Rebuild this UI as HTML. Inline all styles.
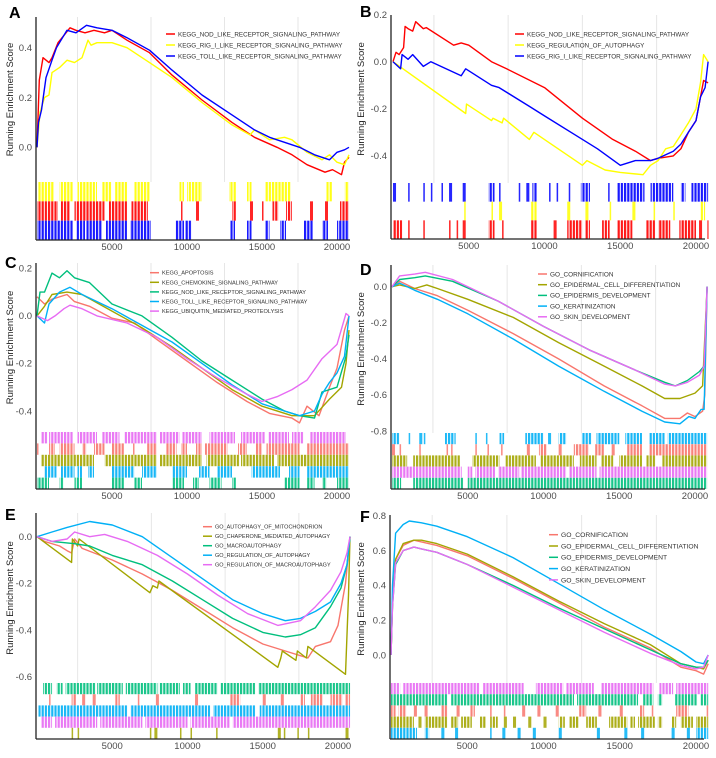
<!DOCTYPE html>
<html><head><meta charset="utf-8"><style>
body{margin:0;background:#fff;}
svg{display:block;font-family:"Liberation Sans",sans-serif;}
</style></head><body>
<svg id="fig" width="716" height="758" viewBox="0 0 716 758"><defs id="defs"></defs></svg>
<script>
// ===== Panel A data =====
const aNames=["KEGG_NOD_LIKE_RECEPTOR_SIGNALING_PATHWAY","KEGG_RIG_I_LIKE_RECEPTOR_SIGNALING_PATHWAY","KEGG_TOLL_LIKE_RECEPTOR_SIGNALING_PATHWAY"];
const aRed=[[0,0],[150,0.27],[400,0.36],[800,0.34],[1000,0.36],[1400,0.42],[1800,0.45],[2200,0.48],[2600,0.47],[3200,0.46],[3800,0.47],[4500,0.46],[5000,0.47],[6000,0.43],[7500,0.38],[9000,0.29],[11000,0.19],[13000,0.10],[14500,0.04],[16000,0.0],[17000,-0.03],[18000,-0.07],[19200,-0.10],[19700,-0.09],[20300,-0.11],[20500,-0.06],[20800,-0.04]];
const aYellow=[[0,0],[200,0.14],[500,0.20],[800,0.21],[1000,0.30],[1500,0.32],[2000,0.35],[2500,0.34],[3000,0.36],[3400,0.43],[3600,0.41],[4000,0.42],[5000,0.42],[6000,0.40],[7500,0.34],[9000,0.28],[11000,0.18],[13000,0.09],[14200,0.05],[14500,0.07],[15500,0.03],[16500,0.04],[17000,0.03],[18000,-0.02],[19000,-0.05],[19500,-0.03],[20000,-0.06],[20500,-0.07],[20800,-0.03]];
const aBlue=[[0,0],[100,0.10],[300,0.15],[600,0.28],[1000,0.35],[1300,0.40],[1600,0.43],[2000,0.47],[2600,0.46],[3300,0.49],[4000,0.48],[5000,0.47],[6000,0.44],[7500,0.39],[9000,0.31],[11000,0.21],[13000,0.13],[14500,0.07],[15500,0.04],[16500,0.02],[17500,0.0],[18500,-0.03],[19500,-0.05],[20000,-0.02],[20500,-0.01],[20800,0.0]];
const aRugYellow=[[50,1100],[1500,2400],[2700,4000],[4300,5000],[5200,6000],[6500,7500],[9500,9800],[10000,11000],[12800,13300],[14000,14300],[15200,16900],[19300,19700],[20500,20800]];
const aRugRed=[[0,1400],[1600,2200],[2500,4500],[4800,6000],[6300,7400],[9600,9700],[10600,10800],[13000,13300],[14200,14400],[15000,15100],[15700,16100],[16600,17000],[18200,18400],[19200,19400],[20200,20800]];
const aRugBlue=[[0,2400],[2600,3200],[3300,4300],[4600,6000],[6200,7600],[9200,9800],[9900,10300],[12900,13200],[14000,14300],[15200,15500],[16200,16600],[17800,18400],[19000,19400],[20000,20800]];
const aYTicks=[0,0.2,0.4];
// ===== Panel B data =====
const bNames=["KEGG_NOD_LIKE_RECEPTOR_SIGNALING_PATHWAY","KEGG_REGULATION_OF_AUTOPHAGY","KEGG_RIG_I_LIKE_RECEPTOR_SIGNALING_PATHWAY"];
const bRed=[[0,0],[200,0.04],[400,0.03],[700,0.06],[800,0.15],[1000,0.14],[1300,0.13],[1500,0.17],[2000,0.14],[2200,0.145],[4000,0.07],[4500,0.08],[5000,0.07],[6500,0.0],[7500,-0.03],[10000,-0.11],[12500,-0.24],[14500,-0.33],[16000,-0.38],[17000,-0.42],[17500,-0.41],[18500,-0.40],[19000,-0.37],[19500,-0.30],[20000,-0.25],[20300,-0.15],[20500,-0.08],[20800,-0.09]];
const bYellow=[[0,0],[4800,-0.22],[4850,-0.18],[6500,-0.25],[6600,-0.24],[7200,-0.26],[7300,-0.24],[9000,-0.33],[9300,-0.30],[12500,-0.44],[12800,-0.42],[14000,-0.46],[15000,-0.47],[16500,-0.48],[17000,-0.44],[17500,-0.42],[18000,-0.37],[18500,-0.36],[19000,-0.31],[19500,-0.26],[20000,-0.20],[20300,-0.09],[20500,0.03],[20800,0.0]];
const bBlue=[[0,0],[500,-0.03],[600,0.03],[1000,0.01],[1300,0.03],[2000,-0.02],[2500,0.0],[4500,-0.06],[4800,-0.03],[6500,-0.10],[7000,-0.11],[9000,-0.19],[10000,-0.23],[12000,-0.31],[13500,-0.37],[15000,-0.44],[16000,-0.42],[17000,-0.42],[17500,-0.41],[18500,-0.38],[19000,-0.35],[19500,-0.30],[20000,-0.25],[20300,-0.15],[20600,-0.11],[20800,0.0]];
const bRugBlue=[[0,200],[1000,1100],[2000,2100],[2500,2600],[3200,3300],[3700,3900],[4600,4800],[6300,6700],[7000,7100],[8300,8400],[8800,9000],[9200,9500],[10300,10400],[10800,10900],[11600,11700],[12400,13000],[14200,14300],[14800,16600],[17000,18500],[19000,19300],[19700,20800]];
const bRugYellow=[[4700,4800],[6500,6600],[7000,7200],[9100,9500],[11500,11700],[12700,12900],[14300,14400],[15800,16000],[17200,17300],[18500,18600],[20300,20600]];
const bRugRed=[[0,600],[1000,1100],[2000,2100],[3700,3800],[4200,4300],[4600,4800],[6300,6700],[7200,7300],[9100,9500],[10600,10800],[11500,12500],[12700,13000],[13800,14300],[14800,15800],[16700,17300],[17500,18300],[18900,20000],[20200,20400],[20750,20800]];
const bYTicks=[0.2,0,-0.2,-0.4];
// ===== Panel C data =====
const cNames=["KEGG_APOPTOSIS","KEGG_CHEMOKINE_SIGNALING_PATHWAY","KEGG_NOD_LIKE_RECEPTOR_SIGNALING_PATHWAY","KEGG_TOLL_LIKE_RECEPTOR_SIGNALING_PATHWAY","KEGG_UBIQUITIN_MEDIATED_PROTEOLYSIS"];
const cApoptosis=[[0,0.08],[500,0.05],[1000,0.07],[2000,0.09],[2500,0.06],[3500,0.04],[5000,-0.01],[6500,-0.03],[8000,-0.10],[10000,-0.19],[12000,-0.28],[14000,-0.36],[15500,-0.41],[17000,-0.43],[17500,-0.45],[18000,-0.38],[18800,-0.42],[19500,-0.30],[20000,-0.22],[20500,-0.06],[20800,0.0]];
const cChemokine=[[0,0],[500,0.04],[1000,0.09],[2000,0.10],[3000,0.09],[5000,0.02],[7000,-0.05],[9000,-0.13],[11000,-0.22],[13000,-0.31],[15000,-0.38],[17000,-0.42],[18500,-0.42],[19500,-0.35],[20300,-0.30],[20600,-0.20],[20800,-0.06]];
const cNod=[[0,0],[200,0.1],[500,0.1],[1000,0.18],[1500,0.16],[2000,0.19],[2500,0.16],[3500,0.14],[5000,0.05],[7000,0.0],[9000,-0.09],[11000,-0.19],[13000,-0.27],[15000,-0.35],[16500,-0.40],[17500,-0.42],[18500,-0.43],[19000,-0.32],[20000,-0.30],[20600,-0.17],[20800,-0.08]];
const cToll=[[0,0],[500,-0.03],[800,0.05],[1500,0.10],[2200,0.12],[3000,0.09],[5000,0.03],[7000,-0.04],[9000,-0.11],[11000,-0.20],[13000,-0.29],[15000,-0.37],[16500,-0.40],[17500,-0.42],[18500,-0.40],[19000,-0.33],[19500,-0.28],[20000,-0.24],[20500,-0.17],[20800,0.0]];
const cUbiq=[[0,0],[700,-0.02],[1200,0.0],[1800,0.03],[2200,0.045],[3000,0.03],[4000,0.0],[6000,-0.03],[8000,-0.09],[10000,-0.18],[12000,-0.26],[14000,-0.33],[15000,-0.36],[16000,-0.34],[17000,-0.31],[18000,-0.27],[19000,-0.18],[20000,-0.12],[20600,0.01],[20800,0.0]];
const cRugUbiq=[[300,700],[800,2400],[2700,4000],[4300,5500],[5800,8000],[8200,9500],[9700,11000],[11500,13200],[13600,15200],[15400,16800],[17000,17800],[18200,20600]];
const cRugApoptosis=[[0,100],[800,1200],[1500,2500],[3000,3300],[3800,4500],[5000,5800],[6400,6500],[7300,8000],[8600,9300],[9600,10000],[10600,11000],[11200,12700],[13400,14000],[14600,15000],[15300,17500],[18000,20800]];
const cRugChemokine=[[300,3800],[4500,8000],[8200,11000],[11300,13500],[13600,15800],[16000,20800]];
const cRugToll=[[500,1300],[1600,2500],[2700,3000],[3400,3800],[5000,6500],[7000,8000],[9000,10000],[10800,11500],[12000,13000],[14300,16200],[16800,17500],[18000,20800]];
const cRugNod=[[0,800],[1500,1800],[2500,3000],[5000,5800],[6500,7000],[9000,9800],[10400,10800],[11500,12300],[13000,13300],[16500,17500],[18000,18500],[19000,19300],[20000,20800]];
const cYTicks=[0.2,0,-0.2,-0.4];
// ===== Panel D data =====
const dNames=["GO_CORNIFICATION","GO_EPIDERMAL_CELL_DIFFERENTIATION","GO_EPIDERMIS_DEVELOPMENT","GO_KERATINIZATION","GO_SKIN_DEVELOPMENT"];
const dCorn=[[0,0],[500,0.03],[1500,-0.01],[3000,-0.05],[5000,-0.13],[8000,-0.26],[11000,-0.40],[14000,-0.55],[16500,-0.66],[18000,-0.73],[19000,-0.73],[19500,-0.70],[20000,-0.72],[20500,-0.69],[20650,-0.6],[20800,0.0]];
const dEpiCell=[[0,0],[500,0.01],[1500,-0.01],[2300,0.01],[3000,-0.01],[5000,-0.07],[8000,-0.17],[11000,-0.31],[14000,-0.44],[16500,-0.55],[18000,-0.62],[19000,-0.62],[20000,-0.59],[20500,-0.55],[20800,0.0]];
const dEpiDev=[[0,0],[500,0.04],[1500,0.05],[2200,0.06],[4000,0.03],[7000,-0.08],[10000,-0.22],[13000,-0.35],[16000,-0.46],[18000,-0.53],[18700,-0.55],[19500,-0.52],[20300,-0.47],[20600,-0.44],[20800,0.0]];
const dKerat=[[0,0],[500,0.02],[1500,-0.02],[3000,-0.07],[5000,-0.15],[8000,-0.29],[11000,-0.44],[14000,-0.58],[16500,-0.69],[18000,-0.75],[19000,-0.76],[19600,-0.72],[20000,-0.73],[20400,-0.68],[20600,-0.68],[20800,0.0]];
const dSkin=[[0,0],[500,0.06],[1500,0.07],[2200,0.08],[4000,0.04],[7000,-0.08],[10000,-0.22],[13000,-0.35],[16000,-0.46],[18000,-0.54],[18700,-0.55],[19500,-0.53],[20300,-0.49],[20600,-0.44],[20800,0.0]];
const dRugKerat=[[0,500],[1100,1200],[1800,2000],[2100,2200],[3500,4200],[5500,5600],[6200,6300],[7100,7400],[8800,10000],[10300,10500],[11000,11500],[12500,13200],[13500,15000],[15400,16500],[17000,18000],[18200,20800]];
const dRugCorn=[[0,200],[500,600],[1800,1900],[3600,3700],[3900,4000],[5500,5600],[6300,6400],[7200,7300],[8900,9100],[9700,10200],[11000,11200],[12000,13000],[13400,14000],[14500,14700],[15500,16500],[17000,20800]];
const dRugEpiCell=[[0,1000],[1400,4500],[5300,7100],[7500,9500],[9800,12000],[12400,13500],[13800,14600],[15000,16500],[16800,17400],[17800,20800]];
const dRugSkin=[[0,4600],[5000,5300],[5500,6800],[7000,8400],[8500,11500],[11700,13500],[13700,20800]];
const dRugEpiDev=[[0,600],[1400,4700],[5000,20800]];
const dYTicks=[0,-0.2,-0.4,-0.6,-0.8];
// ===== Panel E data =====
const eNames=["GO_AUTOPHAGY_OF_MITOCHONDRION","GO_CHAPERONE_MEDIATED_AUTOPHAGY","GO_MACROAUTOPHAGY","GO_REGULATION_OF_AUTOPHAGY","GO_REGULATION_OF_MACROAUTOPHAGY"];
const eMito=[[0,0],[500,-0.02],[1500,-0.04],[2000,-0.06],[2300,-0.07],[2500,-0.01],[3000,-0.05],[5000,-0.10],[7000,-0.16],[9000,-0.23],[11000,-0.31],[13000,-0.39],[15000,-0.46],[16500,-0.49],[17500,-0.51],[18000,-0.52],[18500,-0.47],[19500,-0.45],[20000,-0.38],[20500,-0.20],[20800,0.0]];
const eChap=[[0,0],[2300,-0.11],[2350,-0.01],[2700,-0.04],[2800,-0.01],[7500,-0.24],[7700,-0.21],[8000,-0.22],[8100,-0.19],[16000,-0.56],[16200,-0.52],[16300,-0.49],[17200,-0.53],[17300,-0.49],[17900,-0.52],[18000,-0.47],[20500,-0.59],[20600,-0.42],[20700,-0.25],[20800,0.0]];
const eMacro=[[0,0],[1000,-0.02],[2500,-0.03],[3500,-0.04],[5000,-0.08],[7000,-0.12],[9000,-0.19],[11000,-0.27],[13000,-0.35],[15000,-0.41],[16500,-0.43],[17500,-0.42],[18500,-0.39],[19500,-0.30],[20200,-0.22],[20600,-0.12],[20800,0.0]];
const eRegAuto=[[0,0],[1000,0.02],[2000,0.04],[3500,0.065],[5000,0.05],[7000,0.0],[9000,-0.09],[11000,-0.18],[13000,-0.27],[15000,-0.33],[16500,-0.36],[17500,-0.35],[18500,-0.32],[19500,-0.28],[20200,-0.20],[20600,-0.12],[20800,0.0]];
const eRegMacro=[[0,0],[1000,-0.02],[2000,-0.01],[2500,0.02],[3500,0.0],[4500,0.01],[6000,-0.02],[8000,-0.08],[10000,-0.16],[12000,-0.25],[14000,-0.33],[16000,-0.38],[17500,-0.36],[18500,-0.30],[19500,-0.23],[20200,-0.15],[20600,-0.07],[20800,0.0]];
const eRugMacro=[[400,1000],[1300,1700],[1900,3900],[4000,5700],[5900,8000],[8100,9500],[9700,10200],[10500,12000],[12200,14500],[14700,20800]];
const eRugMito=[[800,900],[2300,2600],[3000,3200],[3700,3900],[5200,5500],[6700,6800],[7900,8100],[10500,10700],[12800,13500],[15000,15200],[16200,16400],[17500,17800],[18200,19000],[19500,20300],[20500,20800]];
const eRugRegAuto=[[100,6000],[6200,11500],[11700,14500],[14800,20800]];
const eRugRegMacro=[[300,1000],[1200,4000],[4200,7000],[7200,10000],[10200,12800],[13000,20800]];
const eRugChap=[[2300,2400],[2700,2800],[7500,7600],[7800,8000],[9500,9600],[10200,10300],[11900,12000],[16000,16200],[16400,16500],[17300,17400],[18000,18100],[20500,20700]];
const eYTicks=[0,-0.2,-0.4,-0.6];
// ===== Panel F data =====
const fNames=["GO_CORNIFICATION","GO_EPIDERMAL_CELL_DIFFERENTIATION","GO_EPIDERMIS_DEVELOPMENT","GO_KERATINIZATION","GO_SKIN_DEVELOPMENT"];
const fCorn=[[0,0],[100,0.3],[300,0.55],[800,0.63],[1500,0.66],[2000,0.65],[3000,0.63],[5000,0.57],[8000,0.44],[11000,0.30],[14000,0.16],[17000,0.04],[19000,-0.07],[20000,-0.09],[20500,-0.11],[20800,-0.05]];
const fEpiCell=[[0,0],[100,0.3],[300,0.55],[800,0.64],[1500,0.66],[2000,0.66],[3000,0.64],[5000,0.58],[8000,0.45],[11000,0.31],[14000,0.18],[17000,0.06],[19000,-0.05],[20000,-0.07],[20500,-0.08],[20800,-0.03]];
const fEpiDev=[[0,0],[100,0.28],[300,0.52],[800,0.60],[1500,0.62],[2000,0.61],[3000,0.59],[5000,0.52],[8000,0.40],[11000,0.27],[14000,0.15],[17000,0.03],[19000,-0.05],[20000,-0.07],[20500,-0.07],[20800,-0.03]];
const fKerat=[[0,0],[100,0.4],[300,0.70],[800,0.75],[1200,0.77],[2000,0.76],[3000,0.74],[5000,0.68],[8000,0.56],[11000,0.41],[14000,0.26],[17000,0.12],[19000,0.02],[20000,-0.04],[20500,-0.05],[20800,0.0]];
const fSkin=[[0,0],[100,0.28],[300,0.53],[800,0.60],[1500,0.62],[2000,0.61],[3000,0.59],[5000,0.52],[8000,0.39],[11000,0.26],[14000,0.13],[17000,0.01],[19000,-0.06],[20000,-0.08],[20500,-0.07],[20800,0.0]];
const fRugSkin=[[0,600],[800,5800],[6000,8700],[9500,11300],[11500,13300],[13800,17200],[17600,18500],[18700,20800]];
const fRugEpiDev=[[0,3700],[3900,12000],[12200,16200],[16500,17200],[17500,17800],[18600,20100],[20300,20800]];
const fRugCorn=[[0,300],[500,1000],[1500,1700],[2200,2400],[3300,3700],[4300,4500],[5200,5500],[6500,6600],[7400,7500],[8600,8800],[9600,9800],[10800,11000],[12300,12800],[13600,13800],[15000,15200],[16300,16600],[17100,17200],[18700,19500],[20700,20800]];
const fRugEpiCell=[[0,1500],[1800,2000],[2200,3700],[3900,4400],[4600,5300],[5800,6200],[6500,7000],[7400,7600],[8000,8200],[9000,9200],[10000,10200],[11000,11400],[11700,12300],[12800,13500],[14300,15500],[15700,16000],[16200,17300],[17500,17800],[18400,18700],[19000,19800],[20000,20800]];
const fRugKerat=[[0,1700],[2200,2500],[3300,3500],[4200,4400],[6500,6600],[7300,7500],[8300,8500],[9300,9500],[11000,11200],[13500,13700],[15300,15500],[16400,16600],[18400,18600],[19400,19600],[20000,20800]];
const fYTicks=[0,0.2,0.4,0.6,0.8];
const xTicks=[5000,10000,15000,20000];
const gridVals=[2700,7600,12500,17400];

const RED="#ff0000",YEL="#ffff00",BLU="#0000ff";
const H=["#F8766D","#A3A500","#00BF7D","#00B0F6","#E76BF3"];
const NS="http://www.w3.org/2000/svg";
const svg=document.getElementById('fig');
const defs=document.getElementById('defs');
function mk(tag,attrs,parent){const e=document.createElementNS(NS,tag);for(const k in attrs)e.setAttribute(k,attrs[k]);(parent||svg).appendChild(e);return e;}

// striped fill patterns for dense hit regions
const patIds={};
[RED,YEL,BLU].concat(H).forEach((c,i)=>{
  const id='pat'+i; patIds[c]=id;
  const p=mk('pattern',{id:id,width:3.2,height:10,patternUnits:'userSpaceOnUse'},defs);
  mk('rect',{x:0,y:0,width:3.2,height:10,fill:'#fff'},p);
  mk('rect',{x:0,y:0,width:2.2,height:10,fill:c,'fill-opacity':0.9},p);
});

const panels=[
 {id:'a',letter:'A',lx:9,ly:18,ax:36,top:17,mainB:182,rugB:240,x0:37,xs:0.015,yv:0,yp:147.3,ys:249,yt:aYTicks,
  series:[[aRed,RED],[aYellow,YEL],[aBlue,BLU]],names:aNames,cols:[RED,YEL,BLU],
  rugs:[[aRugYellow,YEL],[aRugRed,RED],[aRugBlue,BLU]],lgx:166,lgy:34,lgd:11,lgf:6.3,ttx:13},
 {id:'b',letter:'B',lx:360,ly:17,ax:391,top:15,mainB:183,rugB:239,x0:393,xs:0.01515,yv:0,yp:61.7,ys:235.5,yt:bYTicks,
  series:[[bRed,RED],[bYellow,YEL],[bBlue,BLU]],names:bNames,cols:[RED,YEL,BLU],
  rugs:[[bRugBlue,BLU],[bRugYellow,YEL],[bRugRed,RED]],lgx:515,lgy:34,lgd:11,lgf:6.3,ttx:364},
 {id:'c',letter:'C',lx:5,ly:268,ax:36,top:263,mainB:432,rugB:489,x0:37,xs:0.015,yv:0.2,yp:268.3,ys:237.8,yt:cYTicks,
  series:[[cApoptosis,H[0]],[cChemokine,H[1]],[cNod,H[2]],[cToll,H[3]],[cUbiq,H[4]]],names:cNames,cols:H,
  rugs:[[cRugUbiq,H[4]],[cRugApoptosis,H[0]],[cRugChemokine,H[1]],[cRugToll,H[3]],[cRugNod,H[2]]],lgx:150,lgy:272.7,lgd:9.6,lgf:5.6,ttx:13},
 {id:'d',letter:'D',lx:360,ly:275,ax:391,top:265,mainB:433,rugB:489,x0:392,xs:0.01515,yv:0,yp:286.7,ys:180.4,yt:dYTicks,
  series:[[dCorn,H[0]],[dEpiCell,H[1]],[dEpiDev,H[2]],[dKerat,H[3]],[dSkin,H[4]]],names:dNames,cols:H,
  rugs:[[dRugKerat,H[3]],[dRugCorn,H[0]],[dRugEpiCell,H[1]],[dRugSkin,H[4]],[dRugEpiDev,H[2]]],lgx:538,lgy:274,lgd:10.7,lgf:6.4,ttx:364},
 {id:'e',letter:'E',lx:5,ly:520,ax:36,top:513,mainB:683,rugB:739,x0:37,xs:0.01505,yv:0,yp:536.7,ys:233.3,yt:eYTicks,
  series:[[eMito,H[0]],[eChap,H[1]],[eMacro,H[2]],[eRegAuto,H[3]],[eRegMacro,H[4]]],names:eNames,cols:H,
  rugs:[[eRugMacro,H[2]],[eRugMito,H[0]],[eRugRegAuto,H[3]],[eRugRegMacro,H[4]],[eRugChap,H[1]]],lgx:203,lgy:526.7,lgd:9.5,lgf:5.5,ttx:13},
 {id:'f',letter:'F',lx:360,ly:522,ax:390,top:515,mainB:683,rugB:739,x0:391,xs:0.01525,yv:0,yp:655,ys:174,yt:fYTicks,
  series:[[fCorn,H[0]],[fEpiCell,H[1]],[fEpiDev,H[2]],[fKerat,H[3]],[fSkin,H[4]]],names:fNames,cols:H,
  rugs:[[fRugSkin,H[4]],[fRugEpiDev,H[2]],[fRugCorn,H[0]],[fRugEpiCell,H[1]],[fRugKerat,H[3]]],lgx:549,lgy:534.7,lgd:11.3,lgf:6.75,ttx:364}
];

panels.forEach(p=>{
  const g=mk('g',{});
  
  
  const X=v=>p.x0+v*p.xs;
  const Y=v=>p.yp-(v-p.yv)*p.ys;
  gridVals.forEach(v=>{
    const l=mk('line',{x1:X(v),x2:X(v),y1:p.top,y2:p.mainB,stroke:'#e6e6e6','stroke-width':1},g);
    
    
  });
  p.series.forEach((s,i)=>{
    const d=s[0].map((pt,j)=>(j?'L':'M')+X(pt[0]).toFixed(1)+' '+Y(pt[1]).toFixed(1)).join(' ');
    const path=mk('path',{d:d,fill:'none',stroke:s[1],'stroke-width':1.4,'stroke-linejoin':'round'},g);
    
    
  });
  const n=p.rugs.length, rh=(p.rugB-p.mainB)/n;
  p.rugs.forEach((r,i)=>{
    const rg=mk('g',{},g);
    
    
    r[0].forEach(iv=>{
      const x1=X(iv[0]),x2=X(iv[1]);
      const w=Math.max(1.2,x2-x1);
      const rect=mk('rect',{x:x1,y:p.mainB+i*rh,width:w,height:rh,fill:w>4?'url(#'+patIds[r[1]]+')':r[1],'fill-opacity':w>4?1:0.85},rg);
      
      
    });
  });
  const ya=mk('line',{x1:p.ax,x2:p.ax,y1:p.top,y2:p.rugB,stroke:'#222','stroke-width':1.3},g);
  
  
  const xa=mk('line',{x1:p.ax,x2:p.ax+314,y1:p.rugB,y2:p.rugB,stroke:'#222','stroke-width':1.3},g);
  
  
  p.yt.forEach(v=>{
    const t=mk('text',{x:p.ax-4,y:Y(v)+3.3,'text-anchor':'end','font-size':9.5,fill:'#4d4d4d'},g);
    t.textContent=v.toFixed(1);
    
    
  });
  xTicks.forEach(v=>{
    const t=mk('text',{x:X(v),y:p.rugB+10,'text-anchor':'middle','font-size':9.5,fill:'#4d4d4d'},g);
    t.textContent=String(v);
    
    
  });
  const cy=(p.top+p.mainB)/2;
  const tt=mk('text',{x:p.ttx,y:cy,'text-anchor':'middle','font-size':9.5,fill:'#222',transform:`rotate(-90 ${p.ttx} ${cy})`},g);
  tt.textContent='Running Enrichment Score';
  
  
  const L=mk('text',{x:p.lx,y:p.ly,'font-size':16,'font-weight':'bold',fill:'#000'},g);
  L.textContent=p.letter;
  
  
  p.names.forEach((nm,i)=>{
    const y=p.lgy+i*p.lgd;
    const ln=mk('line',{x1:p.lgx,x2:p.lgx+9,y1:y,y2:y,stroke:p.cols[i],'stroke-width':1.5},g);
    
    
    const t=mk('text',{x:p.lgx+12,y:y+p.lgf*0.36,'font-size':p.lgf,fill:'#333'},g);
    t.textContent=nm;
    
    
  });
});
</script>
</body></html>
